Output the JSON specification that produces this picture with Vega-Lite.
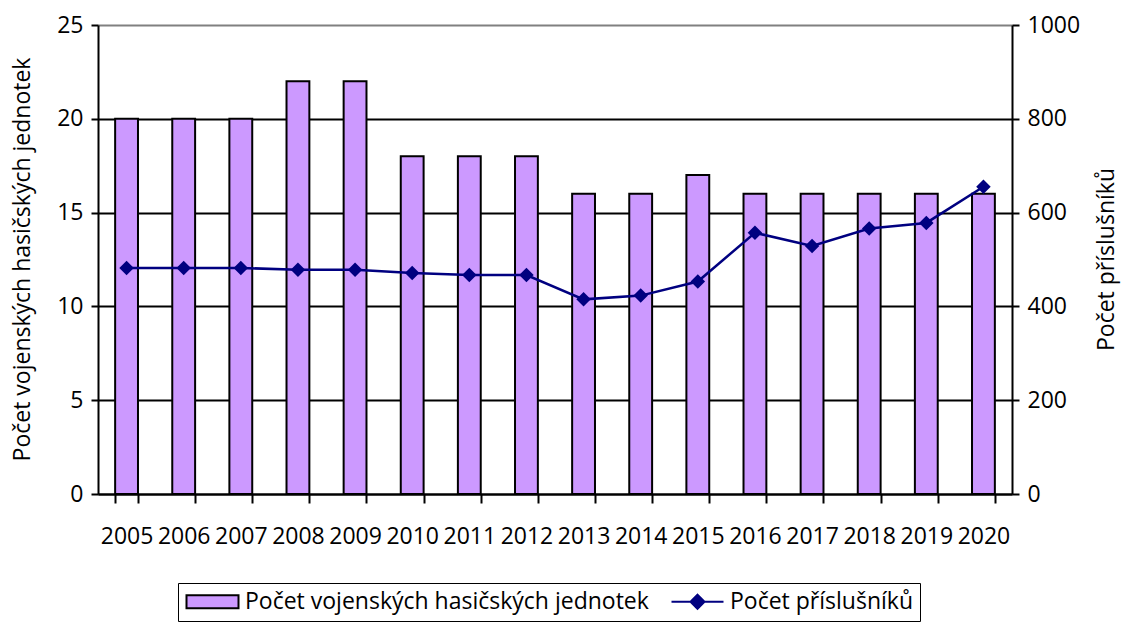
{
  "$schema": "https://vega.github.io/schema/vega-lite/v6.json",
  "width": 914,
  "height": 469,
  "autosize": {"type": "none"},
  "padding": {"left": 98, "top": 25, "right": 110, "bottom": 129},
  "background": "white",
  "config": {
    "view": {"stroke": null},
    "font": "Open Sans",
    "axis": {"labelFont": "Open Sans", "titleFont": "Open Sans", "labelColor": "black", "titleColor": "black", "labelFontSize": 23, "titleFontSize": 23, "titleFontWeight": "normal", "domainColor": "black", "tickColor": "black", "domainWidth": 2, "tickWidth": 2},
    "legend": {
      "title": null,
      "orient": "none",
      "legendX": 80,
      "legendY": 558,
      "direction": "horizontal",
      "strokeColor": "black",
      "padding": 7,
      "labelFont": "Open Sans",
      "labelFontSize": 23,
      "labelColor": "black",
      "labelOffset": 37,
      "labelLimit": 0,
      "columnPadding": 18,
      "symbolSize": 400,
      "symbolStrokeWidth": 2,
      "symbolOpacity": 1
    }
  },
  "data": {
    "values": [
      {"year": "2005", "units": 20, "members": 482},
      {"year": "2006", "units": 20, "members": 482},
      {"year": "2007", "units": 20, "members": 482},
      {"year": "2008", "units": 22, "members": 478},
      {"year": "2009", "units": 22, "members": 478},
      {"year": "2010", "units": 18, "members": 471},
      {"year": "2011", "units": 18, "members": 467},
      {"year": "2012", "units": 18, "members": 467},
      {"year": "2013", "units": 16, "members": 415},
      {"year": "2014", "units": 16, "members": 423},
      {"year": "2015", "units": 17, "members": 453},
      {"year": "2016", "units": 16, "members": 557},
      {"year": "2017", "units": 16, "members": 529},
      {"year": "2018", "units": 16, "members": 566},
      {"year": "2019", "units": 16, "members": 578},
      {"year": "2020", "units": 16, "members": 655}
    ]
  },
  "encoding": {
    "x": {
      "field": "year", "type": "nominal", "title": null,
      "scale": {"paddingInner": 0.6, "paddingOuter": 0.3},
      "axis": {"labelAngle": 0, "tickBand": "extent", "tickSize": 9, "labelPadding": 22, "labelOverlap": false, "domainColor": "black"}
    }
  },
  "layer": [
    {
      "mark": {"type": "bar", "strokeWidth": 2},
      "encoding": {
        "y": {
          "field": "units", "type": "quantitative",
          "title": "Počet vojenských hasičských jednotek",
          "scale": {"domain": [0, 25], "nice": false},
          "axis": {
            "values": [0, 5, 10, 15, 20, 25],
            "grid": true,
            "gridColor": {"condition": {"test": "datum.value == 25", "value": "#808080"}, "value": "black"},
            "gridWidth": 2,
            "tickSize": 7,
            "labelPadding": 8,
            "titleX": -76, "titleY": 234, "titleAngle": 270, "titleAlign": "center", "titleBaseline": "middle"
          }
        },
        "fill": {
          "datum": "Počet vojenských hasičských jednotek",
          "type": "nominal",
          "scale": {"domain": ["Počet vojenských hasičských jednotek", "Počet příslušníků"], "range": ["#CC99FF", "#000080"]}
        },
        "stroke": {
          "datum": "Počet vojenských hasičských jednotek",
          "type": "nominal",
          "scale": {"domain": ["Počet vojenských hasičských jednotek", "Počet příslušníků"], "range": ["black", "#000080"]}
        }
      }
    },
    {
      "mark": {"type": "line", "strokeWidth": 2.5, "color": "#000080"},
      "encoding": {
        "y": {"field": "members", "type": "quantitative", "scale": {"domain": [0, 1000], "nice": false}, "axis": null}
      }
    },
    {
      "mark": {"type": "point", "shape": "diamond", "filled": true, "size": 210, "opacity": 1, "color": "#000080"},
      "encoding": {
        "y": {"field": "members", "type": "quantitative", "scale": {"domain": [0, 1000], "nice": false}, "axis": null}
      }
    },
    {
      "mark": {"type": "point", "filled": true, "size": 10, "opacity": 0, "color": "#000080"},
      "encoding": {
        "y": {
          "field": "members", "type": "quantitative",
          "title": "Počet příslušníků",
          "scale": {"domain": [0, 1000], "nice": false},
          "axis": {
            "orient": "right",
            "values": [0, 200, 400, 600, 800, 1000],
            "format": "d",
            "grid": false,
            "tickSize": 7,
            "labelPadding": 8,
            "titleX": 94, "titleY": 234, "titleAngle": 270, "titleAlign": "center", "titleBaseline": "middle"
          }
        },
        "shape": {
          "datum": "Počet příslušníků",
          "type": "nominal",
          "scale": {"domain": ["Počet vojenských hasičských jednotek", "Počet příslušníků"], "range": ["M-1,-0.65H4.2V0.65H-1Z", "M-1,0H4.2M1.6,-0.7L2.3,0L1.6,0.7L0.9,0Z"]}
        }
      }
    }
  ],
  "resolve": {"scale": {"y": "independent"}}
}
